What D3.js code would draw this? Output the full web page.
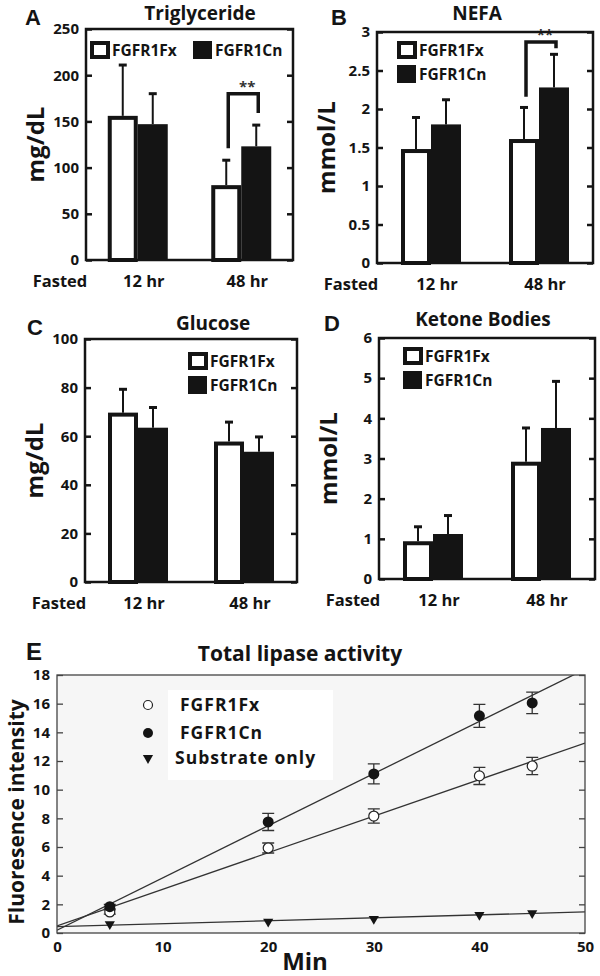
<!DOCTYPE html>
<html>
<head>
<meta charset="utf-8">
<script src="https://cdn.jsdelivr.net/npm/d3@7"></script>
<style>
  body { margin: 0; background: #fff; }
  svg { font-family: "Open Sans", Lato, sans-serif; font-weight: 700; }
</style>
</head>
<body>
<svg></svg>
<script>
const svg = d3.select("svg").attr("width", 600).attr("height", 976);

const groups = ["12 hr", "48 hr"];
const series = ["FGFR1Fx", "FGFR1Cn"];

// A: triglyceride, mg/dL
const trigFx = [156, 81];
const trigFxErr = [55, 27];
const trigCn = [147, 123];
const trigCnErr = [33, 23];
const trigTicks = [0, 50, 100, 150, 200, 250];
const trigSig = [121, 180, 159]; // left leg, top, right leg

// B: NEFA, mmol/L
const nefaFx = [1.48, 1.61];
const nefaFxErr = [0.41, 0.41];
const nefaCn = [1.8, 2.28];
const nefaCnErr = [0.32, 0.43];
const nefaTicks = [0, 0.5, 1, 1.5, 2, 2.5, 3];
const nefaSig = [2.16, 2.87, 2.79];

// C: glucose, mg/dL
const gluFx = [69.7, 57.8];
const gluFxErr = [9.6, 8];
const gluCn = [63.5, 53.6];
const gluCnErr = [8.3, 6.1];
const gluTicks = [0, 20, 40, 60, 80, 100];

// D: ketone bodies, mmol/L
const ketFx = [0.94, 2.92];
const ketFxErr = [0.36, 0.84];
const ketCn = [1.12, 3.76];
const ketCnErr = [0.46, 1.16];
const ketTicks = [0, 1, 2, 3, 4, 5, 6];

// E: total lipase activity
const minutes = [5, 20, 30, 40, 45];
const lipFx = [1.47, 5.93, 8.16, 10.96, 11.65];
const lipFxErr = [0.15, 0.35, 0.5, 0.6, 0.6];
const lipCn = [1.84, 7.75, 11.1, 15.15, 16.05];
const lipCnErr = [0.15, 0.6, 0.7, 0.8, 0.75];
const lipSub = [0.62, 0.79, 0.98, 1.26, 1.39];
const fitFx = [[0, 0.5], [50, 13.25]];
const fitCn = [[0, 0.2], [50, 18.4]];
const fitSub = [[0, 0.45], [50, 1.47]];
const minTicks = [0, 10, 20, 30, 40, 50];
const fluTicks = [0, 2, 4, 6, 8, 10, 12, 14, 16, 18];

const ink = "#141414";

function barPanel(p) {
  const g = svg.append("g");
  const y = d3.scaleLinear().domain([0, d3.max(p.ticks)]).range([p.bottom, p.top]);
  const x = d3.scaleBand().domain(groups).range([p.left, p.right]);
  const inner = d3.scaleBand().domain(series).range([-30, 30]);

  const rows = groups.flatMap((grp, i) => [
    { grp, s: series[0], v: p.fx[i], e: p.fxErr[i] },
    { grp, s: series[1], v: p.cn[i], e: p.cnErr[i] }
  ]);
  const barX = (d) => x(d.grp) + x.bandwidth() / 2 + inner(d.s);
  const mid = (d) => barX(d) + inner.bandwidth() / 2;

  // error bars (upper only)
  g.selectAll("line.err")
    .data(rows)
    .enter()
    .append("line")
    .attr("x1", mid).attr("x2", mid)
    .attr("y1", (d) => y(d.v)).attr("y2", (d) => y(d.v + d.e))
    .attr("stroke", ink).attr("stroke-width", 2);
  g.selectAll("line.cap")
    .data(rows)
    .enter()
    .append("line")
    .attr("x1", (d) => mid(d) - 4).attr("x2", (d) => mid(d) + 4)
    .attr("y1", (d) => y(d.v + d.e)).attr("y2", (d) => y(d.v + d.e))
    .attr("stroke", ink).attr("stroke-width", 3);

  // bars: open with heavy outline for Fx, solid for Cn
  g.selectAll("rect.bar")
    .data(rows)
    .enter()
    .append("rect")
    .attr("x", (d) => (d.s === series[0] ? barX(d) + 2 : barX(d)))
    .attr("y", (d) => (d.s === series[0] ? y(d.v) + 2 : y(d.v)))
    .attr("width", (d) => (d.s === series[0] ? inner.bandwidth() - 4 : inner.bandwidth()))
    .attr("height", (d) => y(0) - y(d.v) - (d.s === series[0] ? 2 : 0))
    .attr("fill", (d) => (d.s === series[0] ? "#fff" : ink))
    .attr("stroke", (d) => (d.s === series[0] ? ink : "none"))
    .attr("stroke-width", 4);

  // significance bracket over 48 hr
  if (p.sig) {
    const a = mid(rows[2]) + 2, b = mid(rows[3]) + 2;
    g.append("path")
      .attr("d", `M${a},${y(p.sig[0])}V${y(p.sig[1])}H${b}V${y(p.sig[2])}`)
      .attr("fill", "none").attr("stroke", ink).attr("stroke-width", 3.5);
    g.append("text")
      .attr("x", (a + b) / 2 + 4).attr("y", y(p.sig[1]) - 2)
      .attr("text-anchor", "middle").attr("font-size", 15).attr("fill", "#333")
      .text("**");
  }

  // frame and inward ticks on both sides
  g.append("rect")
    .attr("x", p.left).attr("y", p.top)
    .attr("width", p.right - p.left).attr("height", p.bottom - p.top)
    .attr("fill", "none").attr("stroke", ink).attr("stroke-width", 2.5);

  const left = g.append("g")
    .attr("transform", `translate(${p.left},0)`)
    .call(d3.axisLeft(y).tickValues(p.ticks).tickSize(-6).tickPadding(7).tickFormat((d) => d));
  const right = g.append("g")
    .attr("transform", `translate(${p.right},0)`)
    .call(d3.axisRight(y).tickValues(p.ticks).tickSize(-6).tickFormat(""));
  [left, right].forEach((ax) => {
    ax.select(".domain").remove();
    ax.selectAll("line").attr("stroke", ink).attr("stroke-width", 2.5);
    ax.attr("font-family", null).attr("font-size", 15);
    ax.selectAll("text").attr("fill", ink);
  });

  // legend
  series.forEach((s, i) => {
    const lx = p.legend[0] + (p.legendRow ? i * 103 : 0);
    const ly = p.legend[1] + (p.legendRow ? 0 : i * 24);
    g.append("rect")
      .attr("x", lx + (i === 0 ? 2 : 0)).attr("y", ly + (i === 0 ? 2 : 0))
      .attr("width", i === 0 ? 16 : 19).attr("height", i === 0 ? 14 : 18)
      .attr("fill", i === 0 ? "#fff" : ink)
      .attr("stroke", i === 0 ? ink : "none").attr("stroke-width", 4);
    g.append("text")
      .attr("x", lx + 22).attr("y", ly + 15)
      .attr("font-size", 15.5).attr("fill", ink)
      .text(s);
  });

  // titles and labels
  g.append("text")
    .attr("x", p.titleX).attr("y", p.titleY)
    .attr("text-anchor", "middle").attr("font-size", 19).attr("fill", ink)
    .text(p.title);
  g.append("text")
    .attr("x", p.letterX).attr("y", p.titleY + 5)
    .attr("font-family", "Liberation Sans, Arial, sans-serif")
    .attr("font-size", 22).attr("fill", ink)
    .text(p.letter);
  g.append("text")
    .attr("transform", `translate(${p.left - 42},${(p.top + p.bottom) / 2}) rotate(-90)`)
    .attr("text-anchor", "middle").attr("font-size", 24).attr("fill", ink)
    .text(p.unit);
  g.append("text")
    .attr("x", p.left - 26).attr("y", p.bottom + 27)
    .attr("text-anchor", "middle").attr("font-size", 16.5).attr("fill", ink)
    .text("Fasted");
  g.selectAll("text.grp")
    .data(groups)
    .enter()
    .append("text")
    .attr("x", (d) => x(d) + x.bandwidth() / 2 + 6)
    .attr("y", p.bottom + 27)
    .attr("text-anchor", "middle").attr("font-size", 16.5).attr("fill", ink)
    .text((d) => d);
}

barPanel({
  letter: "A", letterX: 25, title: "Triglyceride", titleX: 200, titleY: 20, unit: "mg/dL",
  left: 86, right: 293, top: 29, bottom: 260,
  fx: trigFx, fxErr: trigFxErr, cn: trigCn, cnErr: trigCnErr,
  ticks: trigTicks, sig: trigSig, legend: [90, 41], legendRow: true
});
barPanel({
  letter: "B", letterX: 331, title: "NEFA", titleX: 477, titleY: 20, unit: "mmol/L",
  left: 377, right: 593, top: 32, bottom: 263,
  fx: nefaFx, fxErr: nefaFxErr, cn: nefaCn, cnErr: nefaCnErr,
  ticks: nefaTicks, sig: nefaSig, legend: [397, 41]
});
barPanel({
  letter: "C", letterX: 27, title: "Glucose", titleX: 213, titleY: 330, unit: "mg/dL",
  left: 85, right: 297, top: 339, bottom: 582,
  fx: gluFx, fxErr: gluFxErr, cn: gluCn, cnErr: gluCnErr,
  ticks: gluTicks, legend: [188, 352]
});
barPanel({
  letter: "D", letterX: 324, title: "Ketone Bodies", titleX: 483, titleY: 326, unit: "mmol/L",
  left: 379, right: 595, top: 338, bottom: 579,
  fx: ketFx, fxErr: ketFxErr, cn: ketCn, cnErr: ketCnErr,
  ticks: ketTicks, legend: [403, 347]
});

// ---- Panel E: lipase activity over time ----
const ex = d3.scaleLinear().domain([0, 50]).range([57, 585]);
const ey = d3.scaleLinear().domain([0, 18]).range([933, 675]);
const e = svg.append("g");

e.append("clipPath").attr("id", "eclip")
  .append("rect")
  .attr("x", ex(0)).attr("y", ey(18))
  .attr("width", ex(50) - ex(0)).attr("height", ey(0) - ey(18));

e.append("rect")
  .attr("x", ex(0)).attr("y", ey(18))
  .attr("width", ex(50) - ex(0)).attr("height", ey(0) - ey(18))
  .attr("fill", "#f6f6f6");

// legend box (white)
e.append("rect")
  .attr("x", 168).attr("y", 690).attr("width", 165).attr("height", 90)
  .attr("fill", "#fff");

const line = d3.line().x((d) => ex(d[0])).y((d) => ey(d[1]));
[fitFx, fitCn, fitSub].forEach((f) => {
  e.append("path")
    .attr("d", line(f))
    .attr("clip-path", "url(#eclip)")
    .attr("fill", "none").attr("stroke", "#333").attr("stroke-width", 1.3);
});

// frame
e.append("rect")
  .attr("x", ex(0)).attr("y", ey(18))
  .attr("width", ex(50) - ex(0)).attr("height", ey(0) - ey(18))
  .attr("fill", "none").attr("stroke", "#444").attr("stroke-width", 1.3);

const eLeft = e.append("g")
  .attr("transform", `translate(${ex(0)},0)`)
  .call(d3.axisLeft(ey).tickValues(fluTicks).tickSize(-6).tickPadding(7));
const eRight = e.append("g")
  .attr("transform", `translate(${ex(50)},0)`)
  .call(d3.axisRight(ey).tickValues(fluTicks).tickSize(-6).tickFormat(""));
const eBottom = e.append("g")
  .attr("transform", `translate(0,${ey(0)})`)
  .call(d3.axisBottom(ex).tickValues(minTicks).tickSize(0).tickPadding(8));
[eLeft, eRight, eBottom].forEach((ax) => {
  ax.select(".domain").remove();
  ax.selectAll("line").attr("stroke", "#444").attr("stroke-width", 1.3);
  ax.attr("font-family", null).attr("font-size", 15);
  ax.selectAll("text").attr("fill", ink);
});

// error bars for the two genotypes
const errRows = minutes.flatMap((m, i) => [
  { m, v: lipFx[i], e: lipFxErr[i] },
  { m, v: lipCn[i], e: lipCnErr[i] }
]);
e.selectAll("path.err")
  .data(errRows)
  .enter()
  .append("path")
  .attr("d", (d) => {
    const cx = ex(d.m), t = ey(d.v + d.e), b = ey(d.v - d.e);
    return `M${cx - 6},${t}H${cx + 6}M${cx},${t}V${b}M${cx - 6},${b}H${cx + 6}`;
  })
  .attr("fill", "none").attr("stroke", "#333").attr("stroke-width", 1.3);

// markers
e.selectAll("circle.fx")
  .data(minutes)
  .enter()
  .append("circle")
  .attr("cx", (d) => ex(d)).attr("cy", (d, i) => ey(lipFx[i]))
  .attr("r", 5).attr("fill", "#fff").attr("stroke", "#222").attr("stroke-width", 1.2);
e.selectAll("circle.cn")
  .data(minutes)
  .enter()
  .append("circle")
  .attr("cx", (d) => ex(d)).attr("cy", (d, i) => ey(lipCn[i]))
  .attr("r", 5.5).attr("fill", ink);
const tri = d3.symbol().type(d3.symbolTriangle).size(45);
e.selectAll("path.sub")
  .data(minutes)
  .enter()
  .append("path")
  .attr("d", tri)
  .attr("transform", (d, i) => `translate(${ex(d)},${ey(lipSub[i])}) rotate(180)`)
  .attr("fill", ink);

// legend
const eLegend = ["FGFR1Fx", "FGFR1Cn", "Substrate only"];
eLegend.forEach((s, i) => {
  const ly = [705, 733, 758][i];
  if (i === 0) {
    e.append("circle").attr("cx", 148).attr("cy", ly).attr("r", 4.5)
      .attr("fill", "#fff").attr("stroke", "#222").attr("stroke-width", 1.2);
  } else if (i === 1) {
    e.append("circle").attr("cx", 148).attr("cy", ly).attr("r", 5).attr("fill", ink);
  } else {
    e.append("path").attr("d", tri)
      .attr("transform", `translate(148,${ly}) rotate(180)`).attr("fill", ink);
  }
  e.append("text")
    .attr("x", i === 2 ? 175 : 180).attr("y", ly + 6)
    .attr("font-size", 17.5).attr("letter-spacing", 1).attr("fill", ink)
    .text(s);
});

e.append("text")
  .attr("x", 300).attr("y", 661)
  .attr("text-anchor", "middle").attr("font-size", 21).attr("fill", ink)
  .text("Total lipase activity");
e.append("text")
  .attr("x", 26).attr("y", 660)
  .attr("font-family", "Liberation Sans, Arial, sans-serif")
  .attr("font-size", 24).attr("fill", ink)
  .text("E");
e.append("text")
  .attr("transform", `translate(24,${(ey(0) + ey(18)) / 2 + 8}) rotate(-90)`)
  .attr("text-anchor", "middle").attr("font-size", 21).attr("fill", ink)
  .text("Fluoresence intensity");
e.append("text")
  .attr("x", 305).attr("y", 970)
  .attr("text-anchor", "middle").attr("font-size", 24).attr("fill", ink)
  .text("Min");
</script>
</body>
</html>
